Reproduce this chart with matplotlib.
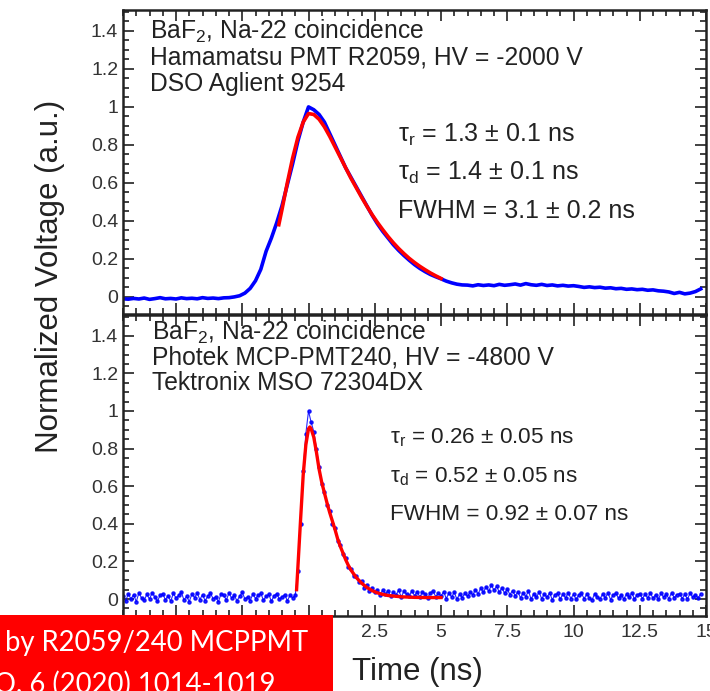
import numpy as np
import matplotlib
matplotlib.use('Agg')
from matplotlib import pyplot as plt
from matplotlib.patches import Rectangle
from matplotlib.ticker import MultipleLocator, FormatStrFormatter, FuncFormatter

plt.rcParams['font.family'] = ['Liberation Sans', 'DejaVu Sans']
plt.rcParams['mathtext.fontset'] = 'custom'
plt.rcParams['mathtext.rm'] = 'Liberation Sans'
plt.rcParams['mathtext.it'] = 'Liberation Sans:italic'

# upper panel: Hamamatsu R2059, sampled every 0.2 ns from -7 ns
t_up = np.round(np.linspace(-7.0, 14.8, 110), 2)
v_up = [-0.010, -0.012, -0.008, -0.011, -0.006, -0.013, -0.009, -0.004, -0.010, -0.008,
        -0.011, -0.005, -0.009, -0.007, -0.010, -0.004, -0.008, -0.006, -0.009, -0.005,
        -0.004, 0.000, 0.006,
        0.020, 0.045, 0.085, 0.145, 0.24, 0.31, 0.39, 0.48, 0.59, 0.70,
        0.82, 0.92, 1.00, 0.985, 0.96, 0.92, 0.86, 0.80, 0.74, 0.68,
        0.63, 0.58, 0.53, 0.48, 0.43, 0.385, 0.345, 0.31, 0.275, 0.245,
        0.218, 0.193, 0.17, 0.15, 0.133, 0.118, 0.106, 0.095, 0.083, 0.074,
        0.067, 0.063,
        0.062, 0.058, 0.064, 0.060, 0.063, 0.059, 0.066, 0.061, 0.064, 0.068,
        0.062, 0.070, 0.064, 0.061, 0.066, 0.060, 0.063, 0.058, 0.061, 0.057,
        0.059, 0.055, 0.050, 0.053, 0.049, 0.051, 0.046, 0.048, 0.043, 0.045,
        0.040, 0.042, 0.038, 0.040, 0.035, 0.037, 0.032, 0.030, 0.026, 0.018,
        0.024, 0.016, 0.020, 0.028, 0.042]

fit_t_up = [-1.12, -1.0, -0.8, -0.6, -0.4, -0.2, 0.0, 0.2, 0.4, 0.6, 0.8, 1.0, 1.2, 1.4,
            1.6, 1.8, 2.0, 2.2, 2.4, 2.6, 2.8, 3.0, 3.2, 3.4, 3.6, 3.8, 4.0, 4.2,
            4.4, 4.6, 4.8, 5.0]
fit_v_up = [0.38, 0.46, 0.60, 0.73, 0.84, 0.92, 0.965, 0.96, 0.935, 0.895, 0.845, 0.79,
            0.735, 0.68, 0.625, 0.575, 0.525, 0.478, 0.433, 0.392, 0.354, 0.318, 0.285,
            0.255, 0.228, 0.203, 0.181, 0.161, 0.143, 0.126, 0.111, 0.097]

# lower panel: Photek MCP-PMT240, sampled every 0.1 ns from -7 ns
t_lo = np.round(np.linspace(-7.0, 14.8, 219), 2)
v_lo = [0.018, -0.010, 0.027, 0.001, 0.023, -0.014, 0.032, 0.006, -0.006, 0.025,
        0.000, 0.034, 0.011, -0.012, 0.021, 0.028, -0.004, 0.017, -0.011, 0.030,
        0.006, 0.020, 0.037, -0.005, 0.014, -0.013, 0.026, 0.008, 0.033, -0.003,
        0.024, -0.009, 0.016, 0.031, 0.002, 0.013, -0.015, 0.028, 0.019, -0.005,
        0.032, 0.005, 0.021, -0.010, 0.015, 0.035, 0.001, 0.012, -0.008, 0.027,
        0.003, 0.020, 0.030, -0.006, 0.014, 0.025, -0.012, 0.018, 0.029, 0.000,
        0.011, 0.024, -0.009, 0.019, 0.007, 0.020, 0.15, 0.40, 0.68, 0.88,
        1.00, 0.94, 0.89, 0.80, 0.70, 0.61, 0.57, 0.50, 0.47, 0.40,
        0.38, 0.31, 0.29, 0.24, 0.22, 0.17, 0.16, 0.12, 0.12, 0.09,
        0.095, 0.06, 0.075, 0.045, 0.06, 0.035, 0.05, 0.022, 0.048, 0.027,
        0.045, 0.014, 0.038, 0.022, 0.047, 0.011, 0.042, 0.025, 0.016, 0.044,
        0.018, 0.040, 0.010, 0.037, 0.027, 0.007, 0.034, 0.042, 0.013, 0.030,
        0.016, 0.039, 0.003, 0.032, 0.011, 0.036, -0.001, 0.026, 0.008, 0.031,
        0.014, 0.038, 0.022, 0.050, 0.027, 0.058, 0.035, 0.066, 0.041, 0.074,
        0.047, 0.068, 0.036, 0.060, 0.031, 0.053, 0.024, 0.045, 0.017, 0.039,
        0.006, 0.034, 0.013, 0.043, -0.001, 0.029, 0.009, 0.037, 0.002, 0.026,
        0.009, 0.033, -0.004, 0.024, 0.030, 0.000, 0.027, 0.006, 0.034, 0.003,
        0.025, -0.002, 0.022, 0.031, 0.002, 0.026, 0.008, -0.005, 0.029, 0.012,
        0.001, 0.027, 0.007, 0.032, -0.003, 0.023, 0.030, 0.004, 0.024, -0.001,
        0.028, 0.009, 0.033, 0.000, 0.022, 0.029, 0.003, 0.025, 0.006, 0.032,
        0.004, 0.024, -0.002, 0.030, 0.010, 0.026, 0.002, 0.033, 0.008, 0.023,
        0.029, 0.003, 0.025, 0.000, 0.031, 0.009, 0.024, 0.006, 0.027]

fit_t_lo = [-0.45, -0.4, -0.3, -0.2, -0.1, 0.0, 0.05, 0.1, 0.2, 0.3, 0.4, 0.5, 0.6, 0.7,
            0.8, 0.9, 1.0, 1.1, 1.2, 1.3, 1.4, 1.5, 1.6, 1.8, 2.0, 2.2, 2.4, 2.6,
            2.8, 3.0, 3.5, 4.0, 4.5, 5.0]
fit_v_lo = [0.05, 0.17, 0.42, 0.66, 0.82, 0.905, 0.915, 0.905, 0.86, 0.78, 0.69, 0.62,
            0.565, 0.51, 0.46, 0.415, 0.37, 0.32, 0.28, 0.245, 0.21, 0.18, 0.155, 0.115,
            0.085, 0.062, 0.045, 0.033, 0.025, 0.019, 0.012, 0.009, 0.008, 0.008]

head_up = ['BaF$_2$, Na-22 coincidence', 'Hamamatsu PMT R2059, HV = -2000 V', 'DSO Aglient 9254']
head_lo = ['BaF$_2$, Na-22 coincidence', 'Photek MCP-PMT240, HV = -4800 V', 'Tektronix MSO 72304DX']
res_up = ['\u03c4$_\\mathrm{r}$ = 1.3 \u00b1 0.1 ns', '\u03c4$_\\mathrm{d}$ = 1.4 \u00b1 0.1 ns',
          'FWHM = 3.1 \u00b1 0.2 ns']
res_lo = ['\u03c4$_\\mathrm{r}$ = 0.26 \u00b1 0.05 ns', '\u03c4$_\\mathrm{d}$ = 0.52 \u00b1 0.05 ns',
          'FWHM = 0.92 \u00b1 0.07 ns']

W, H = 710, 691
fig = plt.figure(figsize=(W / 100, H / 100), dpi=100)
ax1 = fig.add_axes([123 / W, 1 - 314 / H, 583 / W, 304 / H])
ax2 = fig.add_axes([123 / W, 1 - 616 / H, 583 / W, 301 / H])

ax1.plot(t_up, v_up, color='#0000ff', lw=2.6)
ax1.plot(fit_t_up, fit_v_up, color='#ff0000', lw=2.6)
ax2.plot(t_lo, v_lo, color='#0000ff', lw=0.8, marker='.', ms=4.5, alpha=0.85)
ax2.plot(fit_t_lo, fit_v_lo, color='#ff0000', lw=2.4)

# tick labels left of the caption box are hidden in the source image
xfmt = FuncFormatter(lambda v, p: '' if v < 1 else '%g' % v)

for ax in (ax1, ax2):
    ax.set_xlim(-7, 15)
    ax.set_ylim(-0.09, 1.51)
    ax.xaxis.set_major_locator(MultipleLocator(2.5))
    ax.xaxis.set_minor_locator(MultipleLocator(0.5))
    ax.yaxis.set_major_locator(MultipleLocator(0.2))
    ax.yaxis.set_minor_locator(MultipleLocator(0.05))
    ax.xaxis.set_major_formatter(xfmt)
    ax.yaxis.set_major_formatter(FormatStrFormatter('%g'))
    ax.tick_params(which='both', direction='in', top=True, right=True, width=1.3,
                   colors='#333333', labelsize=14, labelcolor='#333333')
    ax.tick_params(which='major', length=8)
    ax.tick_params(which='minor', length=4)
    ax.tick_params(axis='x', pad=6)
    for s in ax.spines.values():
        s.set_linewidth(1.8)
        s.set_color('#222222')

ax1.tick_params(labelbottom=False)

for i, s in enumerate(head_up):
    ax1.text(0.046, [0.928, 0.845, 0.757][i], s, transform=ax1.transAxes,
             fontsize=17.7, va='center', color='#222222')
for i, s in enumerate(res_up):
    ax1.text(0.471, [0.589, 0.464, 0.339][i], s, transform=ax1.transAxes,
             fontsize=18, va='center', color='#222222')
for i, s in enumerate(head_lo):
    ax2.text(0.050, [0.9435, 0.860, 0.774][i], s, transform=ax2.transAxes,
             fontsize=17.7, va='center', color='#222222')
for i, s in enumerate(res_lo):
    ax2.text(0.458, [0.591, 0.462, 0.336][i], s, transform=ax2.transAxes,
             fontsize=16.2, va='center', color='#222222')

fig.text(50 / W, 1 - 276 / H, 'Normalized Voltage (a.u.)', rotation=90,
         ha='center', va='center', fontsize=22.5, color='#222222')
fig.text(417 / W, 1 - 672 / H, 'Time (ns)', ha='center', va='center',
         fontsize=22.5, color='#222222')

# red caption box over the lower left corner
fig.add_artist(Rectangle((0, 0), 333 / W, 76 / H, transform=fig.transFigure,
                         facecolor='#ff0000', edgecolor='none', zorder=10))
fig.text(5 / W, 1 - 643 / H, 'by R2059/240 MCPPMT', color='white', fontsize=19.8,
         family=['Lato', 'DejaVu Sans'], va='center', zorder=11)
fig.text(-6 / W, 1 - 684 / H, 'O. 6 (2020) 1014-1019', color='white', fontsize=19.8,
         family=['Lato', 'DejaVu Sans'], va='center', zorder=11)

fig.savefig('out.png', dpi=100)
